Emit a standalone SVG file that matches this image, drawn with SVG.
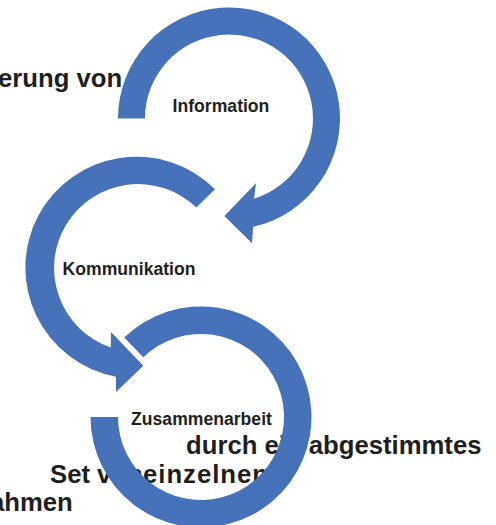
<svg xmlns="http://www.w3.org/2000/svg" width="496" height="525" viewBox="0 0 496 525">
<style>
.ring{fill:#4672B9;stroke:none}
.big{font-family:"Liberation Sans",Arial,sans-serif;font-weight:bold;font-size:25.7px;fill:#1f1f1f}
.lbl{font-family:"Liberation Sans",Arial,sans-serif;font-weight:bold;font-size:17.6px;fill:#1f1f1f;text-anchor:middle}
</style>
<rect width="496" height="525" fill="#ffffff"/>
<g id="background-text">
<text class="big" x="-2" y="87">erung von</text>
<text class="big" x="186" y="454">durch ein abgestimmtes</text>
<text class="big" x="50" y="483">Set von</text>
<text class="big" x="143" y="483" textLength="125">einzelnen</text>
<text class="big" x="-10" y="511">ahmen</text>
</g>
<g id="connectors">
<path id="arrow-information" class="ring" d="M118,118.5 A111,111 0 1 1 253.2,226.8 L252,243.3 L224.3,216 L256,183.3 L254.1,198.7 A84,84 0 1 0 145,118.5 Z"/>
<path id="arrow-kommunikation" class="ring" d="M215,189.3 A111,111 0 1 0 116,376.8 L116,392 L143.3,365.7 L111,332 L110.8,347.5 A84,84 0 1 1 196.4,207.6 Z"/>
<path id="arrow-zusammenarbeit" class="ring" d="M90.5,417 A110.5,110.5 0 1 0 124.2,337.5 L143.3,357.3 A83,83 0 1 1 118,417 Z"/>
</g>
<g id="node-information"><text class="lbl" x="221" y="112">Information</text></g>
<g id="node-kommunikation"><text class="lbl" x="129" y="275">Kommunikation</text></g>
<g id="node-zusammenarbeit"><text class="lbl" x="201.5" y="425">Zusammenarbeit</text></g>
</svg>
